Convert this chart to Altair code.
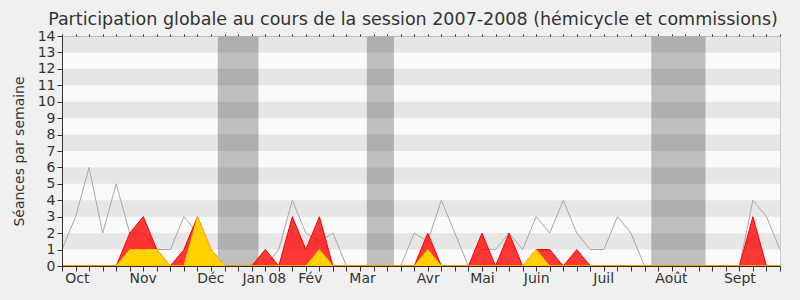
import altair as alt
import pandas as pd

# --- data (weekly values, week index 0..53) ---
weeks = list(range(54))
red_total = [0, 0, 0, 0, 0, 2, 3, 1, 0, 1, 3, 1, 0, 0, 0, 1, 0, 3, 1, 3,
             0, 0, 0, 0, 0, 0, 0, 2, 0, 0, 0, 2, 0, 2, 0, 1, 1, 0, 1, 0,
             0, 0, 0, 0, 0, 0, 0, 0, 0, 0, 0, 3, 0, 0]
yellow_vals = [0, 0, 0, 0, 0, 1, 1, 1, 0, 0, 3, 1, 0, 0, 0, 0, 0, 0, 0, 1,
               0, 0, 0, 0, 0, 0, 0, 1, 0, 0, 0, 0, 0, 0, 0, 1, 0, 0, 0, 0,
               0, 0, 0, 0, 0, 0, 0, 0, 0, 0, 0, 0, 0, 0]
green_vals = [0, 0, 0, 0, 0, 0.05, 0.05, 0.05, 0, 0, 0.15, 0, 0, 0, 0, 0, 0, 0, 0, 0.05,
              0, 0, 0, 0, 0, 0, 0, 0, 0, 0, 0, 0, 0, 0, 0, 0, 0, 0, 0, 0,
              0, 0, 0, 0, 0, 0, 0, 0, 0, 0, 0, 0, 0, 0]
median_vals = [1, 3, 6, 2, 5, 2, 2, 1, 1, 3, 2, 1, 0, 0, 0, 0, 1, 4, 2, 1.5,
               2, 0, 0, 0, 0, 0, 2, 1.5, 4, 2, 0, 1, 1, 2, 1, 3, 2, 4, 2, 1,
               1, 3, 2, 0, 0, 0, 0, 0, 0, 0, 0, 4, 3, 1]

vac_start = [11.5, 22.5, 43.5]
vac_end = [14.5, 24.5, 47.5]
stripe_start = [1, 3, 5, 7, 9, 11, 13]
month_pos = [1.1, 5.95, 10.95, 14.9, 18.3, 22.15, 27, 31, 35, 39.95, 44.95, 50]
month_names = ["Oct", "Nov", "Déc", "Jan 08", "Fév", "Mar", "Avr", "Mai",
               "Juin", "Juil", "Août", "Sept"]
y_ticks = list(range(15))

FONT = "DejaVu Sans"

df = pd.DataFrame({"week": weeks, "red": red_total, "yellow": yellow_vals,
                   "green": green_vals, "median": median_vals})
vac_df = pd.DataFrame({"start": vac_start, "end": vac_end})
stripe_df = pd.DataFrame({"s": stripe_start})
month_df = pd.DataFrame({"pos": month_pos, "name": month_names})

x_scale = alt.Scale(domain=[0, 53], nice=False, zero=False)
y_scale = alt.Scale(domain=[0, 14], nice=False)

y_axis = alt.Axis(values=y_ticks, title="Séances par semaine", grid=False,
                  tickSize=5, tickColor="#333333", domainColor="#333333",
                  labelFontSize=14, labelFont=FONT, labelColor="#333333",
                  labelPadding=2, titleFontSize=14, titleFont=FONT,
                  titleFontWeight="normal", titleColor="#333333", titlePadding=11,
                  orient="left", zindex=1)

tick_axis = alt.Axis(values=weeks, labels=False, title=None, grid=False,
                     tickSize=5, tickColor="#333333", domainColor="#3a2520",
                     orient="bottom", zindex=1)
top_axis = alt.Axis(values=weeks, labels=False, title=None, grid=False,
                    tickSize=2, tickColor="#222222", domain=False, orient="top")
label_expr = "[" + ",".join("'" + n + "'" for n in month_names) + "][indexof([" + \
    ",".join(str(p) for p in month_pos) + "], datum.value)]"
label_axis = alt.Axis(values=month_pos, labelExpr=label_expr, title=None,
                      grid=False, ticks=False, domain=False, orient="bottom",
                      labelFontSize=14, labelFont=FONT, labelColor="#333333",
                      labelPadding=5)

vac = alt.Chart(vac_df).mark_rect(color="#BEBEBE").encode(
    x=alt.X("start:Q", scale=x_scale, axis=None),
    x2="end:Q",
    y=alt.YDatum(0, scale=y_scale, axis=None),
    y2=alt.Y2Datum(14),
)

stripes = alt.Chart(stripe_df).transform_calculate(e="datum.s + 1").mark_rect(
    color="black", opacity=0.08).encode(
    x=alt.XDatum(0, scale=x_scale, axis=None),
    x2=alt.X2Datum(53),
    y=alt.Y("s:Q", scale=y_scale, axis=None),
    y2="e:Q",
)

gray = alt.Chart(df).mark_line(color="#A8A8A8", strokeWidth=1).encode(
    x=alt.X("week:Q", scale=x_scale, axis=tick_axis),
    y=alt.Y("median:Q", scale=y_scale, axis=y_axis),
)

green = alt.Chart(df).mark_area(fill="#00DD00", stroke="#00CC00",
                                strokeWidth=1).encode(
    x=alt.X("week:Q", scale=x_scale, axis=None),
    y=alt.Y("green:Q", scale=y_scale, axis=None),
)

red = alt.Chart(df).mark_area(fill="#FF0000", fillOpacity=0.78, stroke="#FF0000",
                              strokeWidth=1).encode(
    x=alt.X("week:Q", scale=x_scale, axis=top_axis),
    y=alt.Y("red:Q", scale=y_scale, axis=None),
)

yellow = alt.Chart(df).mark_area(fill="#FFD700", fillOpacity=0.97, stroke="#FFC400",
                                 strokeWidth=1).encode(
    x=alt.X("week:Q", scale=x_scale, axis=None),
    y=alt.Y("yellow:Q", scale=y_scale, axis=None),
)

labels = alt.Chart(month_df).mark_point(opacity=0).encode(
    x=alt.X("pos:Q", scale=x_scale, axis=label_axis),
)

chart = alt.layer(vac, stripes, gray, green, red, yellow, labels).resolve_axis(
    x="independent", y="independent"
).properties(
    width=718,
    height=230,
    padding={"left": 62, "top": 36, "right": 20, "bottom": 34},
    autosize=alt.AutoSizeParams(type="none"),
    title=alt.TitleParams(
        "Participation globale au cours de la session 2007-2008 (hémicycle et commissions)",
        fontSize=17.5, font=FONT, fontWeight="normal", color="#333333",
        anchor="middle", offset=1, dx=-8),
).configure(background="#F0F0F0").configure_view(fill="#FAFAFA", stroke="#CCCCCC")

chart.save("out.html", embed_options={"renderer": "svg", "actions": False})
